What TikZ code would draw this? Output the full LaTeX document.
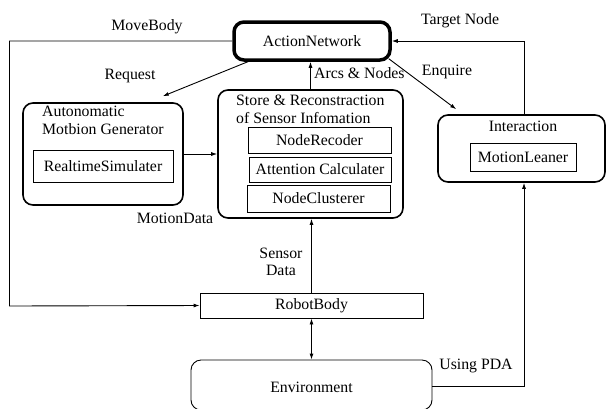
\documentclass[tikz,border=0pt]{standalone}
\usepackage{fontspec}
\setmainfont{Liberation Serif}
\usetikzlibrary{arrows.meta}
\begin{document}
\begin{tikzpicture}[x=1pt,y=-1pt,
  every node/.style={font=\fontsize{15.8}{18}\selectfont},
  box/.style={draw,line width=0.9pt,inner sep=0pt,minimum width=#1},
  rbox/.style={draw,line width=1.6pt,rounded corners=10pt,inner sep=0pt},
  lbl/.style={inner sep=0pt},
  arr/.style={line width=0.9pt,-{Latex[length=6pt,width=4pt]}},
  line/.style={line width=0.9pt}]
\useasboundingbox (0,0) rectangle (607,408);
% main boxes
\node[rbox,line width=3.5pt,minimum width=156,minimum height=38] (an) at (312,41) {ActionNetwork};
\node[rbox,minimum width=160,minimum height=102] (amg) at (103,154) {};
\node[lbl,anchor=north west,align=left] (amgt) at (42,106) {Autonomatic\\Motbion Generator};
\node[box=140,minimum height=32] (rts) at (103,166) {RealtimeSimulater};
\node[rbox,minimum width=185,minimum height=128] (store) at (310.5,154) {};
\node[lbl,anchor=north west,align=left] (storet) at (236,94.5) {Store \& Reconstraction\\of Sensor Infomation};
\node[box=143,minimum height=26] (nrec) at (319.5,140) {NodeRecoder};
\node[box=142,minimum height=25] (att) at (320,169.5) {Attention Calculater};
\node[box=143,minimum height=27] (nclu) at (318.5,198.5) {NodeClusterer};
\node[rbox,minimum width=167,minimum height=67] (inter) at (521.5,148.5) {};
\node[lbl] (intert) at (523,126) {Interaction};
\node[box=106,minimum height=28] (ml) at (523,157) {MotionLeaner};
\node[box=223,minimum height=25] (rb) at (311.5,305.5) {RobotBody};
\node[draw,line width=0.9pt,rounded corners=10pt,inner sep=0pt,minimum width=241,minimum height=50] (env) at (311.5,385) {};
\node[lbl] (envt) at (311.5,387) {Environment};
% coordinates
\coordinate (mb) at (9.5,306);
\coordinate (tn) at (524,41);
\coordinate (ix) at (524,386);
% connectors
\draw[arr] (an.west) -- (an.west -| mb) -- (mb) -- (rb.west);
\draw[arr] ([xshift=18pt,yshift=1pt]an.south west) -- ([xshift=-21pt,yshift=6pt]amg.north east);
\draw[arr] (store.north) -- (store.north |- an.south);
\draw[arr] ([xshift=-3pt,yshift=3pt]an.south east) -- ([xshift=19pt,yshift=5pt]inter.north west);
\draw[arr] (inter.north -| tn) -- (tn) -- (an.east);
\draw[arr] (amg.east) -- (store.west);
\draw[arr] (rb.north) -- (rb.north |- store.south);
\draw[line width=0.9pt,{Latex[length=6pt,width=4pt]}-{Latex[length=6pt,width=4pt]}] (rb.south) -- (env.north);
\draw[arr] (env.east |- ix) -- (ix) -- (inter.south -| ix);
% labels
\node[lbl] (lmb) at (147,27) {MoveBody};
\node[lbl] (lrq) at (130,76) {Request};
\node[lbl,anchor=west] (lan) at (314,73) {Arcs \& Nodes};
\node[lbl] (leq) at (447,72) {Enquire};
\node[lbl] (ltn) at (460,21) {Target Node};
\node[lbl] (lmd) at (175,218) {MotionData};
\node[lbl,align=center,font=\fontsize{15.8}{17}\selectfont] (lsd) at (281,262) {Sensor\\Data};
\node[lbl] (lpda) at (476,366) {Using PDA};
\end{tikzpicture}
\end{document}
